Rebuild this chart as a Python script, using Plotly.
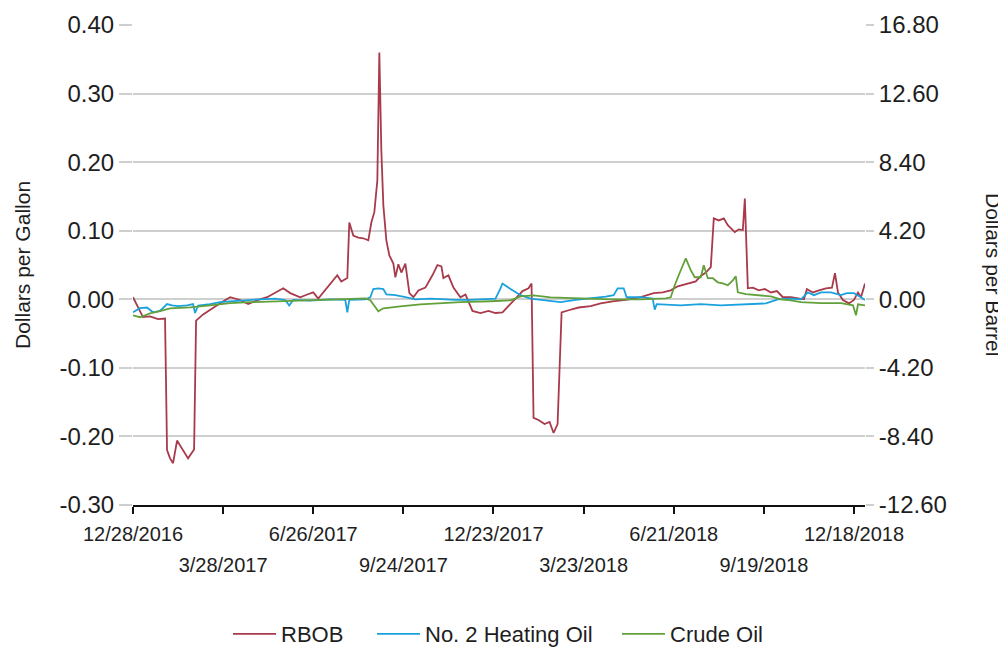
import plotly.graph_objects as go

# ---------------- data ----------------
rbob_dates = [
    '2016-12-28', '2017-01-01', '2017-01-07', '2017-01-14', '2017-01-22', '2017-01-29',
    '2017-01-31', '2017-02-03', '2017-02-06', '2017-02-10', '2017-02-15', '2017-02-21',
    '2017-02-27', '2017-03-01', '2017-03-08', '2017-03-17', '2017-03-27', '2017-04-04',
    '2017-04-14', '2017-04-22', '2017-05-02', '2017-05-11', '2017-05-20', '2017-05-27',
    '2017-06-03', '2017-06-13', '2017-06-20', '2017-06-26', '2017-07-01', '2017-07-06',
    '2017-07-11', '2017-07-16', '2017-07-20', '2017-07-24', '2017-07-30', '2017-08-01',
    '2017-08-05', '2017-08-10', '2017-08-15', '2017-08-20', '2017-08-23', '2017-08-26',
    '2017-08-29', '2017-08-31', '2017-09-02', '2017-09-04', '2017-09-07', '2017-09-10',
    '2017-09-14', '2017-09-16', '2017-09-19', '2017-09-22', '2017-09-26', '2017-09-30',
    '2017-10-04', '2017-10-09', '2017-10-16', '2017-10-23', '2017-10-28', '2017-11-01',
    '2017-11-03', '2017-11-08', '2017-11-13', '2017-11-20', '2017-11-25', '2017-12-02',
    '2017-12-10', '2017-12-18', '2017-12-25', '2018-01-01', '2018-01-07', '2018-01-14',
    '2018-01-21', '2018-01-27', '2018-01-30', '2018-02-01', '2018-02-06', '2018-02-12',
    '2018-02-17', '2018-02-21', '2018-02-25', '2018-03-01', '2018-03-08', '2018-03-18',
    '2018-03-30', '2018-04-09', '2018-04-21', '2018-05-04', '2018-05-19', '2018-06-01',
    '2018-06-10', '2018-06-18', '2018-06-25', '2018-07-05', '2018-07-13', '2018-07-18',
    '2018-07-23', '2018-07-28', '2018-07-31', '2018-08-05', '2018-08-10', '2018-08-14',
    '2018-08-18', '2018-08-21', '2018-08-25', '2018-08-29', '2018-08-31', '2018-09-03',
    '2018-09-08', '2018-09-14', '2018-09-20', '2018-09-26', '2018-10-02', '2018-10-08',
    '2018-10-16', '2018-10-24', '2018-10-29', '2018-11-01', '2018-11-07', '2018-11-13',
    '2018-11-20', '2018-11-26', '2018-11-29', '2018-12-02', '2018-12-07', '2018-12-13',
    '2018-12-18', '2018-12-22', '2018-12-25', '2018-12-29',
]
rbob_values = [
    0.003, -0.009, -0.026, -0.025, -0.029, -0.028,
    -0.220, -0.232, -0.239, -0.206, -0.217, -0.232,
    -0.219, -0.031, -0.022, -0.013, -0.004, 0.003,
    -0.001, -0.007, -0.001, 0.003, 0.010, 0.016,
    0.009, 0.003, 0.007, 0.010, 0.001, 0.010,
    0.019, 0.028, 0.035, 0.026, 0.031, 0.112,
    0.093, 0.090, 0.089, 0.086, 0.112, 0.127,
    0.173, 0.360, 0.217, 0.137, 0.086, 0.064,
    0.052, 0.032, 0.051, 0.039, 0.052, 0.009,
    0.003, 0.013, 0.017, 0.035, 0.050, 0.048,
    0.031, 0.035, 0.017, 0.003, 0.007, -0.017,
    -0.020, -0.017, -0.020, -0.019, -0.009, 0.001,
    0.012, 0.016, 0.023, -0.173, -0.176, -0.182,
    -0.179, -0.195, -0.182, -0.019, -0.016, -0.012,
    -0.010, -0.006, -0.003, -0.001, 0.003, 0.009,
    0.010, 0.013, 0.019, 0.023, 0.026, 0.034,
    0.039, 0.047, 0.118, 0.115, 0.118, 0.108,
    0.103, 0.098, 0.102, 0.101, 0.147, 0.016,
    0.017, 0.013, 0.015, 0.010, 0.012, 0.003,
    0.003, 0.001, 0.000, 0.015, 0.010, 0.013,
    0.016, 0.017, 0.038, 0.010, -0.001, -0.006,
    -0.001, 0.010, 0.003, 0.023,
]

heating_dates = [
    '2016-12-28', '2017-01-01', '2017-01-04', '2017-01-11', '2017-01-17', '2017-01-24',
    '2017-01-31', '2017-02-05', '2017-02-11', '2017-02-20', '2017-02-26', '2017-02-28',
    '2017-03-03', '2017-03-15', '2017-03-25', '2017-04-04', '2017-04-19', '2017-05-04',
    '2017-05-19', '2017-05-29', '2017-06-02', '2017-06-06', '2017-06-23', '2017-07-13',
    '2017-07-28', '2017-07-30', '2017-08-01', '2017-08-17', '2017-08-22', '2017-08-25',
    '2017-08-30', '2017-09-04', '2017-09-07', '2017-09-16', '2017-09-26', '2017-10-06',
    '2017-10-21', '2017-10-31', '2017-11-15', '2017-11-30', '2017-12-15', '2017-12-25',
    '2017-12-30', '2018-01-01', '2018-01-09', '2018-01-19', '2018-01-29', '2018-02-13',
    '2018-02-28', '2018-03-15', '2018-03-30', '2018-04-14', '2018-04-22', '2018-04-26',
    '2018-05-02', '2018-05-05', '2018-05-19', '2018-05-31', '2018-06-02', '2018-06-04',
    '2018-06-28', '2018-07-18', '2018-08-07', '2018-09-01', '2018-09-21', '2018-10-03',
    '2018-10-16', '2018-10-26', '2018-11-02', '2018-11-08', '2018-11-15', '2018-11-25',
    '2018-12-05', '2018-12-11', '2018-12-18', '2018-12-25', '2018-12-29',
]
heating_values = [
    -0.019, -0.015, -0.013, -0.012, -0.019, -0.017,
    -0.007, -0.009, -0.010, -0.009, -0.007, -0.020,
    -0.009, -0.007, -0.004, -0.003, -0.001, 0.000,
    0.001, -0.001, -0.009, -0.001, -0.002, 0.000,
    -0.001, -0.019, -0.001, 0.000, 0.003, 0.015,
    0.016, 0.015, 0.007, 0.006, 0.003, 0.000,
    0.001, 0.000, -0.001, -0.001, 0.000, 0.001,
    0.016, 0.023, 0.015, 0.006, 0.001, -0.001,
    -0.004, -0.001, 0.001, 0.004, 0.006, 0.016,
    0.016, 0.003, 0.003, 0.001, -0.015, -0.007,
    -0.009, -0.007, -0.009, -0.007, -0.006, 0.000,
    0.001, 0.000, 0.010, 0.006, 0.010, 0.010,
    0.006, 0.009, 0.009, 0.003, -0.001,
]

crude_dates = [
    '2016-12-28', '2017-01-04', '2017-01-14', '2017-01-24', '2017-02-03', '2017-02-23',
    '2017-03-15', '2017-04-04', '2017-04-24', '2017-05-24', '2017-06-13', '2017-07-13',
    '2017-08-17', '2017-08-22', '2017-08-26', '2017-08-30', '2017-09-04', '2017-09-11',
    '2017-09-21', '2017-10-11', '2017-10-31', '2017-11-20', '2017-12-20', '2018-01-09',
    '2018-01-19', '2018-02-01', '2018-02-18', '2018-03-20', '2018-04-19', '2018-05-19',
    '2018-06-13', '2018-06-18', '2018-06-22', '2018-06-28', '2018-07-03', '2018-07-08',
    '2018-07-12', '2018-07-18', '2018-07-21', '2018-07-25', '2018-07-30', '2018-08-04',
    '2018-08-09', '2018-08-14', '2018-08-19', '2018-08-22', '2018-08-24', '2018-09-01',
    '2018-09-11', '2018-09-26', '2018-10-06', '2018-10-16', '2018-10-26', '2018-11-15',
    '2018-12-05', '2018-12-17', '2018-12-20', '2018-12-22', '2018-12-29',
]
crude_values = [
    -0.98, -1.10, -0.86, -0.73, -0.55, -0.49,
    -0.37, -0.24, -0.18, -0.12, -0.06, 0.00,
    0.06, -0.06, -0.43, -0.73, -0.55, -0.49,
    -0.43, -0.31, -0.24, -0.18, -0.12, -0.06,
    0.18, 0.24, 0.12, 0.06, 0.00, 0.00,
    0.06, 0.12, 0.86, 1.78, 2.51, 1.78,
    1.35, 1.35, 2.08, 1.29, 1.29, 1.04,
    0.98, 0.86, 1.16, 1.41, 0.43, 0.31,
    0.24, 0.18, 0.00, -0.06, -0.18, -0.24,
    -0.24, -0.37, -0.98, -0.31, -0.37,
]

x_tick_dates = ['2016-12-28', '2017-03-28', '2017-06-26', '2017-09-24', '2017-12-23',
                '2018-03-23', '2018-06-21', '2018-09-19', '2018-12-18']
x_tick_labels = ['12/28/2016', '3/28/2017', '6/26/2017', '9/24/2017', '12/23/2017',
                 '3/23/2018', '6/21/2018', '9/19/2018', '12/18/2018']
left_tick_vals = [-0.30, -0.20, -0.10, 0.00, 0.10, 0.20, 0.30, 0.40]
left_tick_labels = ['-0.30', '-0.20', '-0.10', '0.00', '0.10', '0.20', '0.30', '0.40']
right_tick_vals = [-12.6, -8.4, -4.2, 0.0, 4.2, 8.4, 12.6, 16.8]
right_tick_labels = ['-12.60', '-8.40', '-4.20', '0.00', '4.20', '8.40', '12.60', '16.80']

x_range = ['2016-12-28', '2018-12-29']

# ---------------- figure ----------------
FONT = 'Arial, "Liberation Sans", sans-serif'
TXT = '#1e1e1e'
GRID = '#cfcfcf'

# the page body has an 8px margin, so figure coordinates = page pixels - 8
OFF = 8
W, H = 1006 - OFF, 648 - OFF
PL, PR, PT, PB = 133 - OFF, 865 - OFF, 25 - OFF, 505 - OFF   # plot area
PW, PH = PR - PL, PB - PT


def px_x(page_px):
    return (page_px - OFF - PL) / PW


def px_y(page_py):
    return (PB - (page_py - OFF)) / PH


fig = go.Figure()
fig.add_trace(go.Scatter(x=rbob_dates, y=rbob_values, name='RBOB', mode='lines',
                         line=dict(color='#A83A4B', width=1.8), legend='legend'))
fig.add_trace(go.Scatter(x=heating_dates, y=heating_values, name='No. 2 Heating Oil', mode='lines',
                         line=dict(color='#1BA1DD', width=1.8), legend='legend2'))
fig.add_trace(go.Scatter(x=crude_dates, y=crude_values, name='Crude Oil', mode='lines',
                         line=dict(color='#62A03A', width=1.8), xaxis='x2', yaxis='y2',
                         legend='legend3'))

row1_text = [lab if i % 2 == 0 else '' for i, lab in enumerate(x_tick_labels)]

legend_common = dict(orientation='h', yanchor='middle', y=px_y(634), xanchor='left',
                     font=dict(size=22, color=TXT), itemwidth=43, bgcolor='rgba(0,0,0,0)')

fig.update_layout(
    width=W, height=H,
    margin=dict(l=PL, r=W - PR, t=PT, b=H - PB, autoexpand=False),
    paper_bgcolor='white', plot_bgcolor='white',
    font=dict(family=FONT, color=TXT),
    showlegend=True,
    legend=dict(x=px_x(228), **legend_common),
    legend2=dict(x=px_x(372), **legend_common),
    legend3=dict(x=px_x(617), **legend_common),
    xaxis=dict(type='date', range=x_range, tickvals=x_tick_dates, ticktext=row1_text,
               ticks='outside', ticklen=7, tickwidth=2, tickcolor='#111111',
               showline=True, linecolor='#111111', linewidth=2,
               showgrid=False, zeroline=False, automargin=False,
               ticklabelstandoff=3,
               tickfont=dict(size=20, color=TXT)),
    xaxis2=dict(type='date', range=x_range, overlaying='x', anchor='y2', side='bottom',
                tickvals=x_tick_dates[1::2], ticktext=x_tick_labels[1::2],
                ticks='outside', ticklen=7, tickcolor='rgba(0,0,0,0)',
                showline=False, showgrid=False, zeroline=False, automargin=False,
                ticklabelstandoff=35, tickfont=dict(size=20, color=TXT)),
    yaxis=dict(range=[-0.30, 0.40], tickvals=left_tick_vals, ticktext=left_tick_labels,
               showgrid=True, gridcolor=GRID, gridwidth=2, zeroline=False,
               ticks='outside', ticklen=13, tickwidth=2, tickcolor=GRID,
               showline=False, automargin=False, tickfont=dict(size=24, color=TXT)),
    yaxis2=dict(range=[-12.6, 16.8], overlaying='y', side='right', anchor='x2',
                tickvals=right_tick_vals, ticktext=right_tick_labels,
                showgrid=False, zeroline=False,
                ticks='outside', ticklen=8, tickwidth=2, tickcolor=GRID,
                showline=False, automargin=False, tickfont=dict(size=24, color=TXT)),
    annotations=[
        dict(text='Dollars per Gallon', xref='paper', yref='paper',
             x=px_x(22), y=px_y(265), xanchor='center', yanchor='middle',
             textangle=-90, showarrow=False, font=dict(size=21, color=TXT)),
        dict(text='Dollars per Barrel', xref='paper', yref='paper',
             x=px_x(994), y=px_y(274), xanchor='center', yanchor='middle',
             textangle=90, showarrow=False, font=dict(size=21, color=TXT)),
    ],
)

fig.write_html('out.html')
